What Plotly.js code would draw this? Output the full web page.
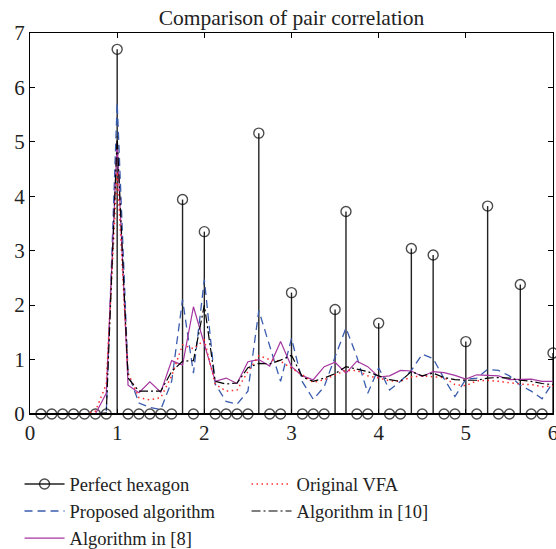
<!DOCTYPE html>
<html><head><meta charset="utf-8">
<script src="https://cdn.plot.ly/plotly-3.0.1.min.js"></script>
<style>html,body{margin:0;padding:0;background:#fff}</style>
</head><body><div id="chart" style="width:556px;height:549px"></div>
<script>
// Distance grid (r) for the smooth curves
const rGrid = [0,0.125,0.25,0.375,0.5,0.625,0.75,0.875,1,1.125,1.25,1.375,1.5,1.625,1.75,1.875,2,2.125,2.25,2.375,2.5,2.625,2.75,2.875,3,3.125,3.25,3.375,3.5,3.625,3.75,3.875,4,4.125,4.25,4.375,4.5,4.625,4.75,4.875,5,5.125,5.25,5.375,5.5,5.625,5.75,5.875,6];

// Perfect hexagon (stem plot)
const hexX = [0.125,0.25,0.375,0.5,0.625,0.75,0.875,1,1.125,1.25,1.375,1.5,1.625,1.75,1.875,2,2.125,2.25,2.375,2.5,2.625,2.75,2.875,3,3.125,3.25,3.375,3.5,3.625,3.75,3.875,4,4.125,4.25,4.375,4.5,4.625,4.75,4.875,5,5.125,5.25,5.375,5.5,5.625,5.75,5.875,6];
const hexY = [0,0,0,0,0,0,0,6.70,0,0,0,0,0,3.94,0,3.35,0,0,0,0,5.16,0,0,2.23,0,0,0,1.92,3.72,0,0,1.67,0,0,3.04,0,2.92,0,0,1.33,0,3.82,0,0,2.38,0,0,1.12];

const proposed = [0,0,0,0,0,0,0,0.02,5.72,0.75,0.2,0.12,0.08,0.6,2.1,0.75,2.47,0.55,0.23,0.18,0.42,1.9,1.25,0.6,1.39,0.59,0.27,0.5,1.05,1.58,1.05,0.38,0.85,0.44,0.6,0.8,1.1,1.02,0.65,0.32,0.64,0.66,0.82,0.8,0.7,0.53,0.42,0.28,0.58];
const alg8 = [0,0,0,0,0,0,0,0.38,5.0,0.53,0.39,0.59,0.4,0.98,0.9,1.97,1.3,0.6,0.66,0.56,0.96,1.0,0.88,1.33,0.87,0.7,0.63,0.87,0.95,0.75,0.97,0.87,0.68,0.7,0.8,0.79,0.69,0.78,0.76,0.71,0.64,0.72,0.71,0.7,0.63,0.64,0.64,0.6,0.6];
const vfa = [0,0,0,0,0,0,0.05,0.55,4.45,0.75,0.3,0.26,0.3,0.7,1.27,1.2,1.36,0.55,0.42,0.44,0.78,1.07,1.0,0.97,0.84,0.72,0.58,0.63,0.72,0.8,0.8,0.7,0.66,0.61,0.6,0.68,0.7,0.69,0.67,0.54,0.52,0.61,0.62,0.6,0.57,0.55,0.54,0.5,0.52];
const alg10 = [0,0,0,0,0,0,0,0.02,5.1,0.66,0.42,0.42,0.42,0.78,0.97,0.98,2.0,0.6,0.55,0.57,0.85,0.93,0.92,0.99,1.08,0.68,0.6,0.66,0.74,0.87,0.82,0.78,0.7,0.63,0.6,0.78,0.7,0.75,0.67,0.63,0.62,0.62,0.66,0.67,0.66,0.62,0.6,0.56,0.54];

const xTicks = [0,1,2,3,4,5,6];
const yTicks = [0,1,2,3,4,5,6,7];
const names = ['Perfect hexagon','Proposed algorithm','Algorithm in [8]','Original VFA','Algorithm in [10]'];

// build stems: base -> top -> gap
const stemX = [], stemY = [], stemS = [];
hexX.forEach((x, i) => {
  stemX.push(x, x, null);
  stemY.push(0, hexY[i], null);
  stemS.push(0, 10, 20);
});

const serif = '"Liberation Serif", serif';

const traces = [
  {x: stemX, y: stemY, name: names[0], mode: 'lines+markers', cliponaxis: false,
   line: {color: '#222', width: 1.4},
   marker: {symbol: 'circle-open', size: stemS, color: '#000', line: {width: 1.4, color: '#000'}},
   legendrank: 1},
  {x: rGrid, y: proposed, name: names[1], mode: 'lines',
   line: {color: '#3a5cae', width: 1.3, dash: '8px,5px'}, legendrank: 3},
  {x: rGrid, y: alg8, name: names[2], mode: 'lines',
   line: {color: '#a5359f', width: 1.2}, legendrank: 5},
  {x: rGrid, y: vfa, name: names[3], mode: 'lines',
   line: {color: '#ff2b2b', width: 1.5, dash: '1.5px,3.5px'}, legendrank: 2},
  {x: rGrid, y: alg10, name: names[4], mode: 'lines',
   line: {color: '#000', width: 1.2, dash: '9px,3px,2px,3px'}, legendrank: 4}
];

const axisCommon = {
  showline: true, mirror: 'ticks', linecolor: '#000', linewidth: 1,
  ticks: 'inside', ticklen: 5, tickcolor: '#000', tickwidth: 1,
  showgrid: false, zeroline: false, ticklabeloverflow: 'allow',
  tickfont: {family: serif, size: 21, color: '#222'}
};

const layout = {
  width: 556, height: 549,
  margin: {l: 30, r: 3, t: 33, b: 135, autoexpand: false},
  paper_bgcolor: '#fff', plot_bgcolor: '#fff',
  title: {text: 'Comparison of pair correlation', font: {family: serif, size: 21.5, color: '#222'},
          x: 0.5, xref: 'paper', y: 1, yref: 'paper', yanchor: 'bottom', pad: {b: 8}},
  xaxis: Object.assign({}, axisCommon, {range: [0, 6], tickvals: xTicks}),
  yaxis: Object.assign({}, axisCommon, {range: [0, 7], tickvals: yTicks}),
  showlegend: true,
  legend: {orientation: 'h', x: -0.02, xanchor: 'left', y: -0.135, yanchor: 'top',
           entrywidth: 172, entrywidthmode: 'pixels', itemwidth: 40,
           font: {family: serif, size: 18.5, color: '#222'}, bgcolor: 'rgba(0,0,0,0)'},
  shapes: [{type: 'line', xref: 'paper', x0: 0, x1: 1, yref: 'y', y0: 0, y1: 0,
            line: {color: '#000', width: 2}}]
};

Plotly.newPlot('chart', traces, layout, {displayModeBar: false, staticPlot: true});
</script>
</body></html>
